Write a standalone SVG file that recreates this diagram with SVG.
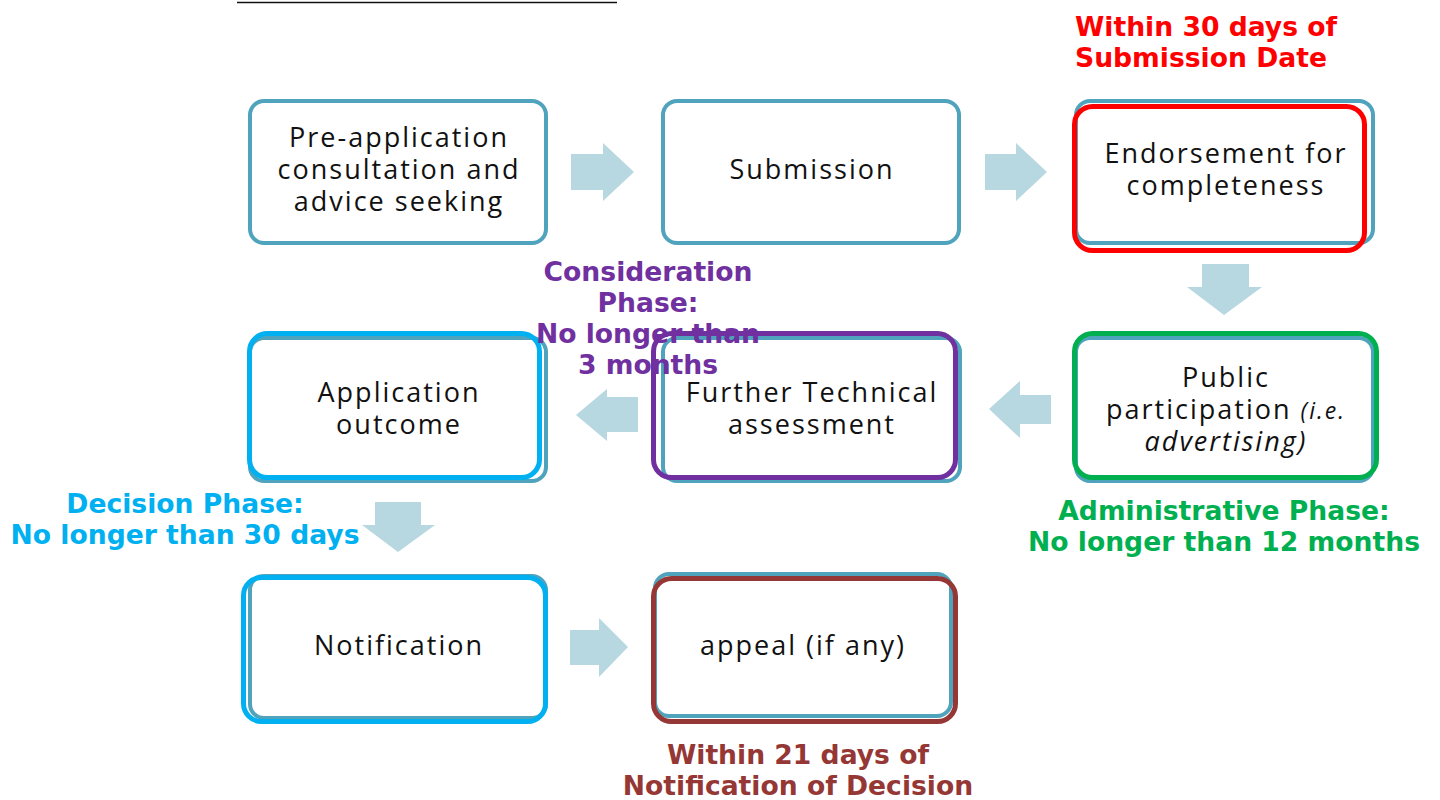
<svg xmlns="http://www.w3.org/2000/svg" width="1440" height="800" viewBox="0 0 1440 800">
<style>
.box{fill:#fff;stroke:#4FA3BC;stroke-width:4}
.t{font-family:"Open Sans","Noto Sans",sans-serif;font-size:27px;fill:#111;text-anchor:middle;letter-spacing:2px}
.it{font-style:italic}
.ann{font-family:"DejaVu Sans",sans-serif;font-weight:bold;font-size:26.6px}
.arr{fill:#B7D7E1}
.hl{fill:none;stroke-width:5}
</style>
<rect width="1440" height="800" fill="#fff"/>
<line x1="237" y1="2.5" x2="617" y2="2.5" stroke="#111" stroke-width="1.5"/>

<g id="connectors">
<polygon class="arr" points="571,154 603,154 603,143 634,172 603,201 603,190 571,190"/>
<polygon class="arr" points="985,154 1016,154 1016,143 1047,172 1016,201 1016,190 985,190"/>
<polygon class="arr" points="1202,264 1249,264 1249,287 1262,287 1224,315 1187,287 1202,287"/>
<polygon class="arr" points="1051,395 1020,395 1020,381 989,409 1020,438 1020,424 1051,424"/>
<polygon class="arr" points="638,397 607,397 607,389 576,415 607,441 607,432 638,432"/>
<polygon class="arr" points="375,502 421,502 421,525 435,525 398,552 362,525 375,525"/>
<polygon class="arr" points="570,630 599,630 599,618 628,647 599,677 599,665 570,665"/>
</g>

<g id="n1">
<rect class="box" x="250" y="101" width="296" height="142" rx="14"/>
<text class="t" x="399" y="147">Pre-application</text>
<text class="t" x="399" y="179">consultation and</text>
<text class="t" x="399" y="211">advice seeking</text>
</g>
<g id="n2">
<rect class="box" x="663" y="101" width="296" height="142" rx="14"/>
<text class="t" x="812" y="179">Submission</text>
</g>
<g id="n3">
<rect class="box" x="1076" y="101" width="297" height="142" rx="14"/>
<rect class="hl" x="1074.5" y="106.5" width="290" height="144" rx="18" stroke="#FF0000"/>
<text class="t" x="1226" y="163">Endorsement for</text>
<text class="t" x="1226" y="195">completeness</text>
</g>
<g id="n4">
<rect class="box" x="1076" y="338" width="297" height="143" rx="14"/>
<rect class="hl" x="1074.5" y="333.5" width="302" height="144" rx="18" stroke="#00B050"/>
<text class="t" x="1226" y="387">Public</text>
<text class="t" x="1226" y="419">participation <tspan class="it" font-size="23">(i.e.</tspan></text>
<text class="t it" x="1226" y="451" font-size="23">advertising)</text>
</g>
<g id="n5">
<rect class="box" x="663" y="338" width="297" height="143" rx="14"/>
<rect class="hl" x="653.5" y="333.5" width="302" height="144" rx="18" stroke="#7030A0"/>
<text class="t" x="812" y="402">Further Technical</text>
<text class="t" x="812" y="434">assessment</text>
</g>
<g id="n6">
<rect class="box" x="250" y="338" width="296" height="143" rx="14"/>
<rect class="hl" x="249.5" y="333.5" width="290" height="144" rx="18" stroke="#00B0F0"/>
<text class="t" x="399" y="402">Application</text>
<text class="t" x="399" y="434">outcome</text>
</g>
<g id="n7">
<rect class="box" x="250" y="576" width="296" height="142" rx="14"/>
<rect class="hl" x="243.5" y="577.5" width="302" height="144" rx="18" stroke="#00B0F0"/>
<text class="t" x="399" y="655">Notification</text>
</g>
<g id="n8">
<rect class="box" x="655" y="574" width="296" height="142" rx="14"/>
<rect class="hl" x="653.5" y="578.5" width="302" height="143" rx="18" stroke="#953735"/>
<text class="t" x="803" y="655">appeal (if any)</text>
</g>

<g id="labels">
<text class="ann" fill="#FF0000" x="1075" y="36">Within 30 days of</text>
<text class="ann" fill="#FF0000" x="1075" y="67">Submission Date</text>
<text class="ann" fill="#7030A0" text-anchor="middle" x="648" y="281">Consideration</text>
<text class="ann" fill="#7030A0" text-anchor="middle" x="648" y="312">Phase:</text>
<text class="ann" fill="#7030A0" text-anchor="middle" x="648" y="343">No longer than</text>
<text class="ann" fill="#7030A0" text-anchor="middle" x="648" y="374">3 months</text>
<text class="ann" fill="#00B0F0" text-anchor="middle" x="185" y="513">Decision Phase:</text>
<text class="ann" fill="#00B0F0" text-anchor="middle" x="185" y="544">No longer than 30 days</text>
<text class="ann" fill="#00B050" text-anchor="middle" x="1224" y="520">Administrative Phase:</text>
<text class="ann" fill="#00B050" text-anchor="middle" x="1224" y="551">No longer than 12 months</text>
<text class="ann" fill="#953735" text-anchor="middle" x="798" y="764">Within 21 days of</text>
<text class="ann" fill="#953735" text-anchor="middle" x="798" y="795">Notification of Decision</text>
</g>
</svg>
